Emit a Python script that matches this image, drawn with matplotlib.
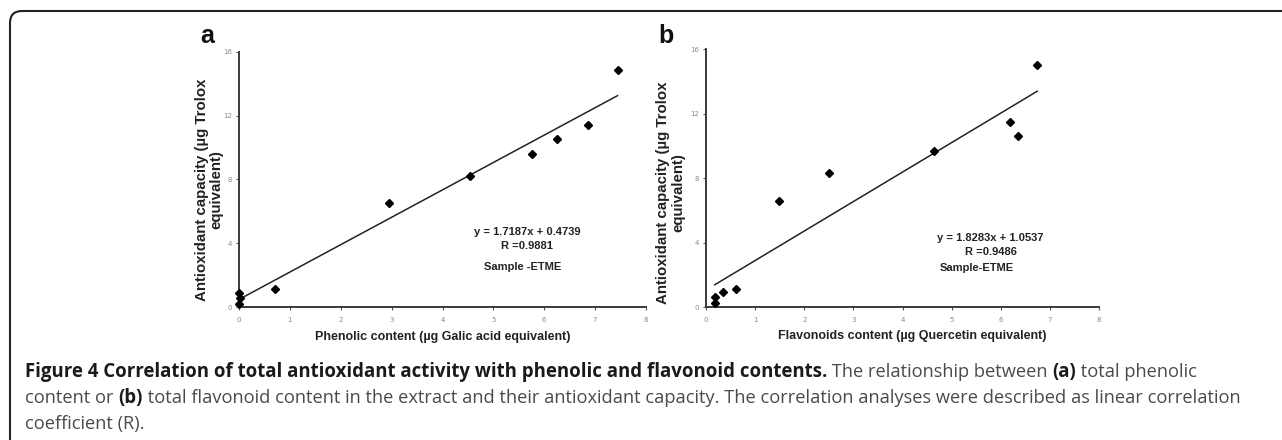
import matplotlib
matplotlib.use("Agg")
import matplotlib.pyplot as plt
import numpy as np
from matplotlib.patches import FancyBboxPatch
from matplotlib.transforms import IdentityTransform

# ---------------- data ----------------
phenolic_x = [0.0, 0.02, 0.0, 0.71, 2.94, 4.54, 5.75, 6.26, 6.86, 7.44]
phenolic_y = [0.2, 0.55, 0.9, 1.1, 6.55, 8.25, 9.6, 10.56, 11.4, 14.9]
flavonoid_x = [0.18, 0.19, 0.35, 0.61, 1.49, 2.51, 4.65, 6.19, 6.36, 6.74]
flavonoid_y = [0.23, 0.64, 0.92, 1.14, 6.6, 8.3, 9.7, 11.45, 10.6, 15.0]
fit_a = (1.7187, 0.4739)
fit_b = (1.8283, 1.0537)
eq_a = ["y = 1.7187x + 0.4739", "R =0.9881", "Sample -ETME"]
eq_b = ["y = 1.8283x + 1.0537", "R =0.9486", "Sample-ETME"]
x_ticks = [0, 1, 2, 3, 4, 5, 6, 7, 8]
y_ticks = [0, 4, 8, 12, 16]
xlabel_a = "Phenolic content (µg Galic acid equivalent)"
xlabel_b = "Flavonoids content (µg Quercetin equivalent)"
ylabel = "Antioxidant capacity (µg Trolox\nequivalent)"

W, H = 1282, 440
fig = plt.figure(figsize=(W / 100, H / 100), dpi=100)
fig.patch.set_facecolor("white")

AX_FONT = "Liberation Sans"
CAP_FONT = "Open Sans"


def px_axes(x0, x1, ytop, ybot):
    return fig.add_axes([x0 / W, (H - ybot) / H, (x1 - x0) / W, (ybot - ytop) / H])


def style_axes(ax):
    ax.set_xlim(0, 8)
    ax.set_ylim(0, 16)
    ax.set_xticks(x_ticks)
    ax.set_yticks(y_ticks)
    ax.set_xticklabels([str(t) for t in x_ticks])
    ax.set_yticklabels([str(t) for t in y_ticks])
    for s in ("top", "right"):
        ax.spines[s].set_visible(False)
    for s in ("left", "bottom"):
        ax.spines[s].set_color("#3a3a3a")
        ax.spines[s].set_linewidth(1.4)
    ax.tick_params(direction="out", length=2, width=0.8, color="#555555",
                   labelsize=5, labelcolor="#8a8a8a")
    ax.tick_params(axis="x", pad=5)
    ax.tick_params(axis="y", pad=3)
    ax.set_facecolor("none")


def panel(ax, xs, ys, fit, eqs, eqpos):
    ax.plot(xs, ys, linestyle="none", marker="D", markersize=3.8,
            color="black", clip_on=False, zorder=3)
    xx = np.array([min(xs), max(xs)])
    ax.plot(xx, fit[0] * xx + fit[1], color="#222222", lw=1.1, clip_on=False)
    for t, (px, py) in zip(eqs, eqpos):
        ax.text(px, py, t, ha="center", va="center", fontsize=8.0,
                fontweight="bold", family=AX_FONT, color="#222222")


# panel a
ax_a = px_axes(239, 646, 52, 307)
style_axes(ax_a)
panel(ax_a, phenolic_x, phenolic_y, fit_a, eq_a,
      [(5.66, 4.7), (5.66, 3.82), (5.58, 2.5)])

# panel b
ax_b = px_axes(706, 1099, 49, 307)
style_axes(ax_b)
panel(ax_b, flavonoid_x, flavonoid_y, fit_b, eq_b,
      [(5.78, 4.3), (5.8, 3.42), (5.52, 2.42)])


def fig_text(x, y, s, **kw):
    return fig.text(x / W, (H - y) / H, s, **kw)


# panel letters
fig_text(207, 36, "a", fontsize=18, fontweight="bold", family=AX_FONT,
         ha="center", va="center", color="#111111")
fig_text(666, 36, "b", fontsize=18, fontweight="bold", family=AX_FONT,
         ha="center", va="center", color="#111111")

# axis labels
fig_text(209, 190, ylabel, rotation=90, fontsize=10.8, fontweight="bold",
         family=AX_FONT, ha="center", va="center", multialignment="center",
         linespacing=1.0, color="#222222")
fig_text(671, 193, ylabel, rotation=90, fontsize=10.8, fontweight="bold",
         family=AX_FONT, ha="center", va="center", multialignment="center",
         linespacing=1.15, color="#222222")
fig_text(443, 337, xlabel_a, fontsize=9, fontweight="bold", family=AX_FONT,
         ha="center", va="center", color="#222222")
fig_text(912, 336, xlabel_b, fontsize=9, fontweight="bold", family=AX_FONT,
         ha="center", va="center", color="#222222")

# border (rounded frame, open at right/bottom)
frame = FancyBboxPatch((10, -40), 1320, H - 11 + 40, boxstyle="round,pad=0,rounding_size=12",
                       transform=IdentityTransform(), facecolor="none",
                       edgecolor="#222222", linewidth=1.5)
fig.patches.append(frame)

# caption with mixed weights
caption_lines = [
    [("Figure 4 Correlation of total antioxidant activity with phenolic and flavonoid contents.", True),
     (" The relationship between ", False), ("(a)", True), (" total phenolic", False)],
    [("content or ", False), ("(b)", True),
     (" total flavonoid content in the extract and their antioxidant capacity. The correlation analyses were described as linear correlation", False)],
    [("coefficient (R).", False)],
]
cap_y = [372, 398, 424]
fig.canvas.draw()
renderer = fig.canvas.get_renderer()
for line, yy in zip(caption_lines, cap_y):
    xcur = 25
    for txt, bold in line:
        t = fig_text(xcur, yy, txt, fontsize=13.4 if bold else 13.15,
                     family=CAP_FONT,
                     fontweight="bold" if bold else "normal",
                     color="#1a1a1a" if bold else "#4a4a4a",
                     ha="left", va="center")
        bb = t.get_window_extent(renderer=renderer)
        xcur += bb.width

fig.savefig("out.png", dpi=100, facecolor="white")
